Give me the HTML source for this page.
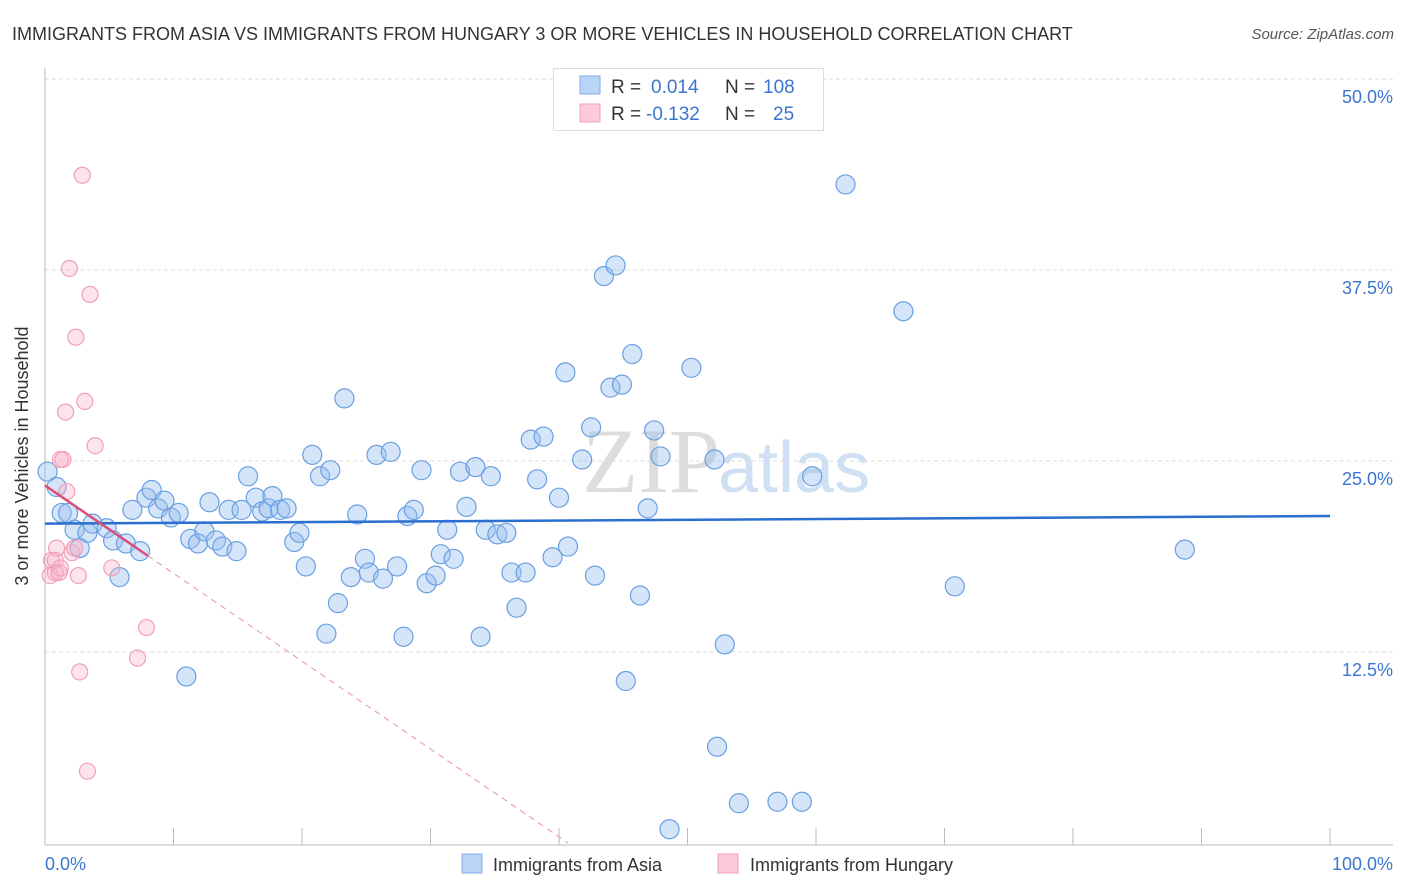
<!DOCTYPE html>
<html><head><meta charset="utf-8"><style>
body{margin:0;background:#fff;font-family:"Liberation Sans",sans-serif;}
#wrap{position:relative;width:1406px;height:892px;overflow:hidden;}
</style></head><body>
<div id="wrap">
<svg id="svg" width="1406" height="892" xmlns="http://www.w3.org/2000/svg">
<text x="12" y="40" font-size="18" fill="#333">IMMIGRANTS FROM ASIA VS IMMIGRANTS FROM HUNGARY 3 OR MORE VEHICLES IN HOUSEHOLD CORRELATION CHART</text>
<text x="1394" y="39" font-size="15" fill="#555" font-style="italic" text-anchor="end">Source: ZipAtlas.com</text>
<text x="720" y="492" font-size="92" fill="#ddd" font-family="Liberation Serif,serif" text-anchor="end">ZIP</text>
<text x="718" y="492" font-size="72" fill="#cfe0f4">atlas</text>
<g id="grid"></g>
<line x1="45" y1="68" x2="45" y2="845" stroke="#bbb"/>
<line x1="45" y1="845" x2="1393" y2="845" stroke="#bbb"/>
<g id="ticks"></g>
<text x="28" y="456" font-size="18" fill="#333" text-anchor="middle" transform="rotate(-90 28 456)">3 or more Vehicles in Household</text>
<text x="45" y="870" font-size="18" fill="#3a76d0">0.0%</text>
<text x="1393" y="870" font-size="18" fill="#3a76d0" text-anchor="end">100.0%</text>
<g id="pts"></g>
<g id="trends"></g>
<g>
<rect x="553.5" y="68.5" width="270" height="62" fill="#fff" stroke="#ddd"/>
<rect x="580" y="76" width="20" height="18" fill="#b8d4f6" stroke="#80aee8"/>
<rect x="580" y="104" width="20" height="18" fill="#fccad8" stroke="#f0a0b8"/>
<text y="93" font-size="19"><tspan x="611" fill="#333">R = </tspan><tspan x="651" fill="#3a76d0">0.014</tspan><tspan x="725" fill="#333">N = </tspan><tspan x="763" fill="#3a76d0">108</tspan></text>
<text y="120" font-size="19"><tspan x="611" fill="#333">R = </tspan><tspan x="646" fill="#3a76d0">-0.132</tspan><tspan x="725" fill="#333">N = </tspan><tspan x="773" fill="#3a76d0">25</tspan></text>
</g>
<g>
<rect x="462" y="854" width="20" height="19" fill="#b8d4f6" stroke="#80aee8"/>
<text x="493" y="871" font-size="18" fill="#333">Immigrants from Asia</text>
<rect x="718" y="854" width="20" height="19" fill="#fccad8" stroke="#f0a0b8"/>
<text x="750" y="871" font-size="18" fill="#333">Immigrants from Hungary</text>
</g>
</svg>
</div>
<script>
const yTicks=[12.5,25,37.5,50];
const yTickLabels=["12.5%","25.0%","37.5%","50.0%"];
const xTicks=[0,10,20,30,40,50,60,70,80,90,100];
const asiaX=[0.2,0.9,1.3,1.8,2.3,3.3,3.7,2.7,4.8,5.3,5.8,6.3,7.4,6.8,7.9,8.3,8.8,9.3,9.8,10.4,11.0,11.3,11.9,12.4,12.8,13.3,13.8,14.3,14.9,15.3,15.8,16.4,16.9,17.4,17.7,18.3,18.8,19.4,19.8,20.3,20.8,21.4,21.9,22.2,22.8,23.3,23.8,24.3,24.9,25.2,25.8,26.3,26.9,27.4,27.9,28.2,28.7,29.3,29.7,30.4,30.8,31.3,31.8,32.3,32.8,33.5,33.9,34.3,34.7,35.2,35.9,36.3,36.7,37.4,37.8,38.3,38.8,39.5,40.0,40.5,40.7,41.8,42.5,42.8,43.5,44.0,44.4,44.9,45.2,45.7,46.3,46.9,47.4,47.9,48.6,50.3,52.1,52.3,52.9,54.0,57.0,58.9,59.7,62.3,66.8,70.8,88.7];
const asiaY=[24.3,23.3,21.6,21.6,20.5,20.3,20.9,19.3,20.6,19.8,17.4,19.6,19.1,21.8,22.6,23.1,21.9,22.4,21.3,21.6,10.9,19.9,19.6,20.4,22.3,19.8,19.4,21.8,19.1,21.8,24.0,22.6,21.7,21.9,22.7,21.8,21.9,19.7,20.3,18.1,25.4,24.0,13.7,24.4,15.7,29.1,17.4,21.5,18.6,17.7,25.4,17.3,25.6,18.1,13.5,21.4,21.8,24.4,17.0,17.5,18.9,20.5,18.6,24.3,22.0,24.6,13.5,20.5,24.0,20.2,20.3,17.7,15.4,17.7,26.4,23.8,26.6,18.7,22.6,30.8,19.4,25.1,27.2,17.5,37.1,29.8,37.8,30.0,10.6,32.0,16.2,21.9,27.0,25.3,0.9,31.1,25.1,6.3,13.0,2.6,2.7,2.7,24.0,43.1,34.8,16.8,19.2];
const hungX=[0.4,0.5,0.8,0.9,1.1,1.2,1.4,1.7,1.9,2.1,2.3,2.4,2.6,2.7,2.9,3.1,3.3,3.5,3.9,5.2,7.2,7.9,1.6,0.8,1.2];
const hungY=[17.5,18.5,17.7,19.3,17.7,25.1,25.1,23.0,37.6,19.0,19.3,33.1,17.5,11.2,43.7,28.9,4.7,35.9,26.0,18.0,12.1,14.1,28.2,18.5,18.0];
const asiaTrend=[[0,20.9],[100,21.4]];
const hungTrendSolid=[[0,23.4],[8,18.8]];
const hungTrendDash=[[8,18.8],[40.7,0]];
const NS='http://www.w3.org/2000/svg';
function sx(v){return 45+v*12.85;}
function sy(v){return 843-v*15.28;}
function mk(tag,attrs,parent){const e=document.createElementNS(NS,tag);for(const k in attrs)e.setAttribute(k,attrs[k]);parent.appendChild(e);return e;}
const grid=document.getElementById('grid'),ticks=document.getElementById('ticks'),pts=document.getElementById('pts'),tr=document.getElementById('trends');
yTicks.forEach((t,i)=>{
 const l=mk('line',{x1:45,x2:1393,y1:sy(t),y2:sy(t),stroke:'#ddd','stroke-dasharray':'4 3'},grid);
 
 
 const tx=mk('text',{x:1393,y:sy(t)+24,'font-size':18,fill:'#3a76d0','text-anchor':'end'},grid);
 tx.textContent=yTickLabels[i];
 
 
});
xTicks.forEach(t=>{
 const l=mk('line',{x1:sx(t),x2:sx(t),y1:828,y2:845,stroke:'#bbb'},ticks);
 
 
});
asiaX.forEach((x,i)=>{
 const c=mk('circle',{cx:sx(x),cy:sy(asiaY[i]),r:9.5,fill:'rgba(150,190,240,0.4)',stroke:'#6a9fe0','stroke-width':1.2},pts);
 
 
});
hungX.forEach((x,i)=>{
 const c=mk('circle',{cx:sx(x),cy:sy(hungY[i]),r:8,fill:'rgba(248,175,198,0.35)',stroke:'#f0a0b8','stroke-width':1.2},pts);
 
 
});
const l1=mk('line',{x1:sx(asiaTrend[0][0]),y1:sy(asiaTrend[0][1]),x2:sx(asiaTrend[1][0]),y2:sy(asiaTrend[1][1]),stroke:'#2a6fd0','stroke-width':2.5},tr);


const l2=mk('line',{x1:sx(hungTrendSolid[0][0]),y1:sy(hungTrendSolid[0][1]),x2:sx(hungTrendSolid[1][0]),y2:sy(hungTrendSolid[1][1]),stroke:'#d9507a','stroke-width':2.5},tr);


const l3=mk('line',{x1:sx(hungTrendDash[0][0]),y1:sy(hungTrendDash[0][1]),x2:sx(hungTrendDash[1][0]),y2:sy(hungTrendDash[1][1]),stroke:'#e890aa','stroke-width':1,'stroke-dasharray':'6 5'},tr);


</script>
</body></html>
